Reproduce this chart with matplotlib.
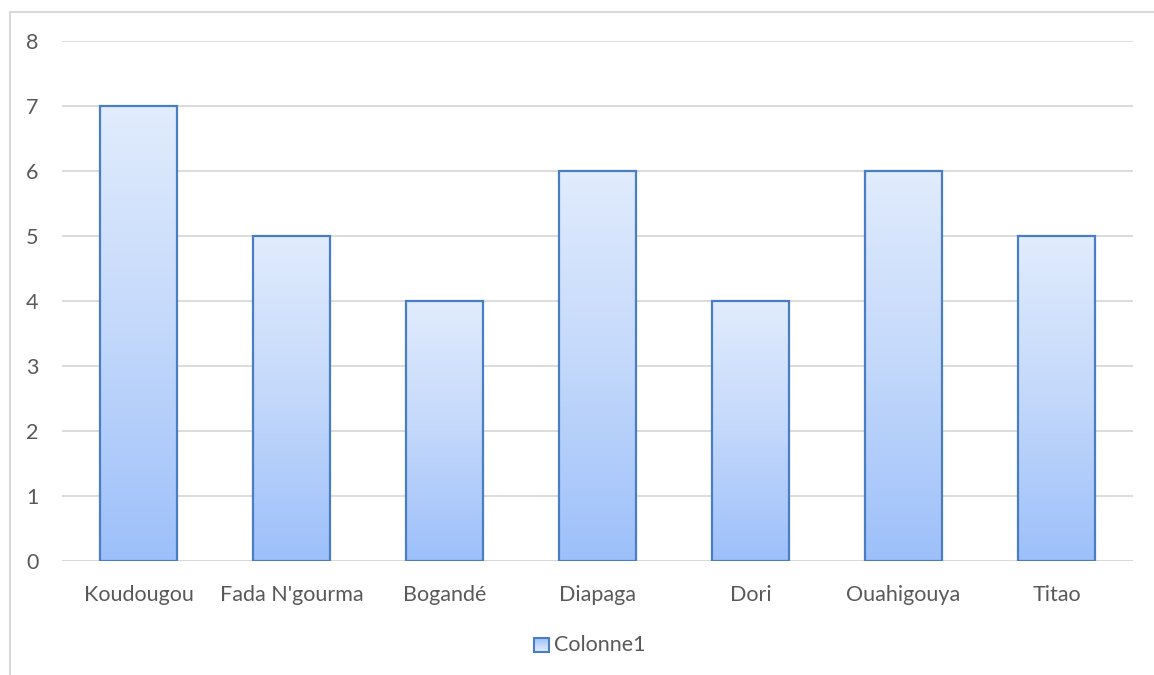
import matplotlib.pyplot as plt
import numpy as np
from matplotlib.patches import Rectangle
from matplotlib.colors import LinearSegmentedColormap

# data
villes = ["Koudougou", "Fada N'gourma", "Bogandé", "Diapaga", "Dori", "Ouahigouya", "Titao"]
valeurs = [7, 5, 4, 6, 4, 6, 5]
yticks = [0, 1, 2, 3, 4, 5, 6, 7, 8]
serie = "Colonne1"

plt.rcParams['font.family'] = ['Lato', 'DejaVu Sans']
textColor = "#595959"
gridColor = "#d9d9d9"
edgeColor = "#4a7ec4"
cmap = LinearSegmentedColormap.from_list("barGrad", ["#9dc0fa", "#c3d8fb", "#e1ecfd"])

fig = plt.figure(figsize=(11.54, 6.75), dpi=100)
# chart frame (only top and left visible in the reference)
fig.add_artist(plt.Line2D([10/1154, 10/1154], [0, 1 - 12/675], color=gridColor, lw=1.5))
fig.add_artist(plt.Line2D([10/1154, 1], [1 - 12/675, 1 - 12/675], color=gridColor, lw=1.5))

ax = fig.add_axes([62/1154, 1 - 561/675, (1133 - 62)/1154, (561 - 41)/675])
x = np.arange(len(villes))
barWidth = 0.5
ax.set_xlim(-0.5, len(villes) - 0.5)
ax.set_ylim(0, 8)

grad = np.linspace(0, 1, 256).reshape(-1, 1)
for xi, v in zip(x, valeurs):
    left = xi - barWidth / 2
    im = ax.imshow(grad, cmap=cmap, aspect='auto', origin='lower',
                   extent=[left, left + barWidth, 0, v], zorder=2)
    rect = Rectangle((left, 0), barWidth, v, facecolor='none', edgecolor=edgeColor,
                     lw=1.6, zorder=3)
    ax.add_patch(rect)
    im.set_clip_path(rect)

ax.set_xlim(-0.5, len(villes) - 0.5)
ax.set_ylim(0, 8)
ax.set_yticks(yticks)
ax.yaxis.grid(True, color=gridColor, lw=1.3, zorder=0)
ax.set_axisbelow(True)
for s in ax.spines.values():
    s.set_visible(False)
ax.axhline(0, color=gridColor, lw=1.3, zorder=1)
ax.set_xticks(x)
ax.set_xticklabels(villes)
ax.tick_params(axis='both', length=0, labelsize=15.5, colors=textColor)
ax.tick_params(axis='x', pad=17)
ax.tick_params(axis='y', pad=17)

# legend
legAx = fig.add_axes([0, 0, 1, 1], facecolor='none')
legAx.set_axis_off()
legAx.set_xlim(0, 1154)
legAx.set_ylim(675, 0)
legAx.imshow(grad, cmap=cmap, aspect='auto', origin='upper', extent=[534, 549, 652, 638])
legAx.add_patch(Rectangle((534, 638), 15, 14, facecolor='none', edgecolor=edgeColor, lw=1.5))
legAx.set_xlim(0, 1154)
legAx.set_ylim(675, 0)
legAx.text(554, 645, serie, color=textColor, fontsize=15.5, va='center', ha='left')

fig.savefig("out.png", dpi=100)
